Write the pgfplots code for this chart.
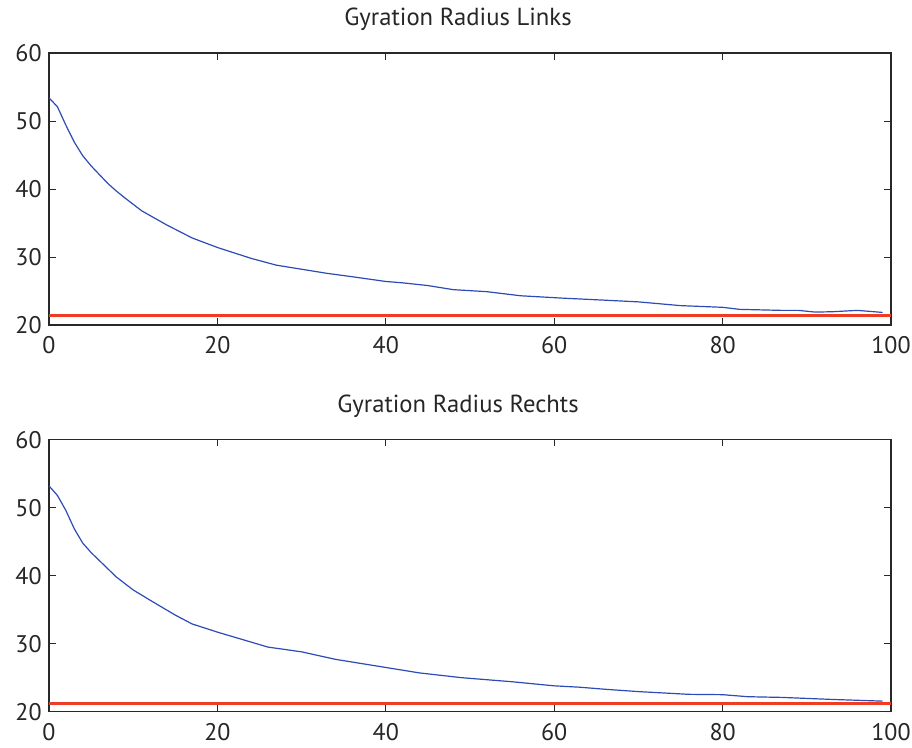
\documentclass[border=0pt]{standalone}
\usepackage{pgfplots}
\pgfplotsset{compat=1.18}
\usepackage{fontspec}
\setmainfont{PT Sans}

\definecolor{mblue}{RGB}{45,75,180}
\definecolor{mred}{RGB}{240,60,35}
\definecolor{axgray}{RGB}{40,40,40}

\pgfplotsset{
  gyr/.style={
    scale only axis,
    width=631.5pt, height=204pt,
    xmin=0, xmax=100, ymin=20, ymax=60,
    xtick={0,20,...,100}, ytick={20,30,...,60},
    tick align=inside,
    major tick length=5pt,
    axis line style={axgray, line width=0.9pt},
    every tick/.style={axgray, line width=0.7pt},
    tick label style={font=\fontsize{18}{20}\selectfont, text=black!85},
    /pgf/number format/assume math mode=true,
    xticklabel style={yshift=-5pt},
    yticklabel style={xshift=-2pt},
    title style={font=\fontsize{18.5}{20}\selectfont, text=black!85,
      at={(0.5,1)}, anchor=base, yshift=14.5pt, xshift=-9pt},
  }
}

\begin{document}
\begin{tikzpicture}
\useasboundingbox (0,0) rectangle (684pt,560.25pt);

\begin{axis}[gyr, at={(36.75pt,316.5pt)}, anchor=south west,
  title={Gyration Radius Links}]
\addplot[mred, line width=2.2pt] coordinates {(0,21.35) (100,21.35)};
\addplot[mblue, line width=0.9pt] coordinates {
  (0,53.4) (1,52.1) (2,49.4) (3,46.9) (4,44.9) (5,43.4) (6,42.1) (7,40.8)
  (8,39.7) (9,38.7) (11,36.8) (14,34.7) (17,32.8) (20,31.4) (22,30.6)
  (24,29.8) (27,28.8) (30,28.2) (33,27.6) (36,27.1) (40,26.4) (42,26.2)
  (45,25.8) (48,25.2) (52,24.9) (56,24.3) (61,23.95) (66,23.65) (70,23.4)
  (75,22.85) (80,22.6) (82,22.3) (87,22.15) (89,22.15) (91,21.9) (93,21.95)
  (96,22.15) (99,21.85)
};
\end{axis}

\begin{axis}[gyr, at={(36.75pt,26.5pt)}, anchor=south west,
  title={Gyration Radius Rechts}]
\addplot[mred, line width=2.2pt] coordinates {(0,21.25) (100,21.25)};
\addplot[mblue, line width=0.9pt] coordinates {
  (0,53.2) (1,51.8) (2,49.6) (3,46.9) (4,44.8) (5,43.4) (6,42.2) (7,41.0)
  (8,39.8) (10,37.9) (12,36.4) (15,34.2) (17,32.9) (20,31.7) (23,30.6)
  (26,29.5) (30,28.8) (34,27.7) (37,27.1) (40,26.5) (44,25.7) (49,25.0)
  (55,24.4) (60,23.8) (63,23.6) (66,23.3) (70,22.95) (76,22.55) (80,22.5)
  (83,22.2) (87,22.1) (93,21.8) (99,21.55)
};
\end{axis}
\end{tikzpicture}
\end{document}
